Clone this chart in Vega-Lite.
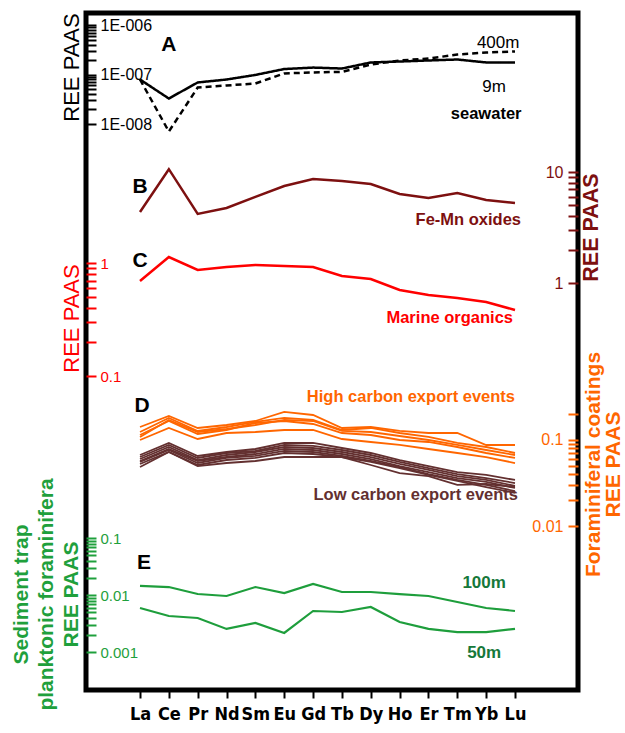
{
  "$schema": "https://vega.github.io/schema/vega-lite/v6.json",
  "width": 492,
  "height": 677,
  "autosize": {"type": "none"},
  "padding": {"left": 86, "top": 13, "right": 47, "bottom": 43},
  "background": "white",
  "config": {
    "view": {"stroke": "black", "strokeWidth": 5},
    "axis": {"grid": false, "domain": false, "labelFont": "Liberation Sans", "titleFont": "Liberation Sans", "labelFlush": false, "labelOverlap": false, "labelBound": false},
    "text": {"font": "Liberation Sans"}
  },
  "datasets": {
    "seawater": [
      {"depth": "9m", "el": "La", "v": 7.92e-8}, {"depth": "9m", "el": "Ce", "v": 3.27e-8}, {"depth": "9m", "el": "Pr", "v": 6.9e-8}, {"depth": "9m", "el": "Nd", "v": 7.92e-8}, {"depth": "9m", "el": "Sm", "v": 9.8e-8}, {"depth": "9m", "el": "Eu", "v": 1.29e-7}, {"depth": "9m", "el": "Gd", "v": 1.38e-7}, {"depth": "9m", "el": "Tb", "v": 1.32e-7}, {"depth": "9m", "el": "Dy", "v": 1.75e-7}, {"depth": "9m", "el": "Ho", "v": 1.83e-7}, {"depth": "9m", "el": "Er", "v": 1.92e-7}, {"depth": "9m", "el": "Tm", "v": 2.01e-7}, {"depth": "9m", "el": "Yb", "v": 1.75e-7}, {"depth": "9m", "el": "Lu", "v": 1.75e-7},
      {"depth": "400m", "el": "La", "v": 7.92e-8}, {"depth": "400m", "el": "Ce", "v": 7.05e-9}, {"depth": "400m", "el": "Pr", "v": 5.46e-8}, {"depth": "400m", "el": "Nd", "v": 6.0e-8}, {"depth": "400m", "el": "Sm", "v": 6.58e-8}, {"depth": "400m", "el": "Eu", "v": 1.05e-7}, {"depth": "400m", "el": "Gd", "v": 1.10e-7}, {"depth": "400m", "el": "Tb", "v": 1.13e-7}, {"depth": "400m", "el": "Dy", "v": 1.59e-7}, {"depth": "400m", "el": "Ho", "v": 1.92e-7}, {"depth": "400m", "el": "Er", "v": 2.1e-7}, {"depth": "400m", "el": "Tm", "v": 2.53e-7}, {"depth": "400m", "el": "Yb", "v": 2.78e-7}, {"depth": "400m", "el": "Lu", "v": 2.92e-7}
    ],
    "femn": [
      {"el": "La", "v": 4.36}, {"el": "Ce", "v": 10.6}, {"el": "Pr", "v": 4.19}, {"el": "Nd", "v": 4.74}, {"el": "Sm", "v": 5.96}, {"el": "Eu", "v": 7.48}, {"el": "Gd", "v": 8.65}, {"el": "Tb", "v": 8.30}, {"el": "Dy", "v": 7.80}, {"el": "Ho", "v": 6.34}, {"el": "Er", "v": 5.84}, {"el": "Tm", "v": 6.47}, {"el": "Yb", "v": 5.60}, {"el": "Lu", "v": 5.26}
    ],
    "organics": [
      {"el": "La", "v": 0.693}, {"el": "Ce", "v": 1.13}, {"el": "Pr", "v": 0.867}, {"el": "Nd", "v": 0.922}, {"el": "Sm", "v": 0.960}, {"el": "Eu", "v": 0.941}, {"el": "Gd", "v": 0.922}, {"el": "Tb", "v": 0.767}, {"el": "Dy", "v": 0.722}, {"el": "Ho", "v": 0.577}, {"el": "Er", "v": 0.521}, {"el": "Tm", "v": 0.490}, {"el": "Yb", "v": 0.451}, {"el": "Lu", "v": 0.384}
    ],
    "forams": [
      {"grp": "high", "s": "H1", "el": "La", "v": 0.1416}, {"grp": "high", "s": "H1", "el": "Ce", "v": 0.1902}, {"grp": "high", "s": "H1", "el": "Pr", "v": 0.1379}, {"grp": "high", "s": "H1", "el": "Nd", "v": 0.1494}, {"grp": "high", "s": "H1", "el": "Sm", "v": 0.1663}, {"grp": "high", "s": "H1", "el": "Eu", "v": 0.2117}, {"grp": "high", "s": "H1", "el": "Gd", "v": 0.1953}, {"grp": "high", "s": "H1", "el": "Tb", "v": 0.1379}, {"grp": "high", "s": "H1", "el": "Dy", "v": 0.1416}, {"grp": "high", "s": "H1", "el": "Ho", "v": 0.1273}, {"grp": "high", "s": "H1", "el": "Er", "v": 0.1206}, {"grp": "high", "s": "H1", "el": "Tm", "v": 0.1206}, {"grp": "high", "s": "H1", "el": "Yb", "v": 0.0875}, {"grp": "high", "s": "H1", "el": "Lu", "v": 0.0875},
      {"grp": "high", "s": "H2", "el": "La", "v": 0.1239}, {"grp": "high", "s": "H2", "el": "Ce", "v": 0.1803}, {"grp": "high", "s": "H2", "el": "Pr", "v": 0.1273}, {"grp": "high", "s": "H2", "el": "Nd", "v": 0.1416}, {"grp": "high", "s": "H2", "el": "Sm", "v": 0.1620}, {"grp": "high", "s": "H2", "el": "Eu", "v": 0.1803}, {"grp": "high", "s": "H2", "el": "Gd", "v": 0.1709}, {"grp": "high", "s": "H2", "el": "Tb", "v": 0.1307}, {"grp": "high", "s": "H2", "el": "Dy", "v": 0.1379}, {"grp": "high", "s": "H2", "el": "Ho", "v": 0.1206}, {"grp": "high", "s": "H2", "el": "Er", "v": 0.1084}, {"grp": "high", "s": "H2", "el": "Tm", "v": 0.0923}, {"grp": "high", "s": "H2", "el": "Yb", "v": 0.0829}, {"grp": "high", "s": "H2", "el": "Lu", "v": 0.0706},
      {"grp": "high", "s": "H3", "el": "La", "v": 0.1143}, {"grp": "high", "s": "H3", "el": "Ce", "v": 0.1663}, {"grp": "high", "s": "H3", "el": "Pr", "v": 0.1174}, {"grp": "high", "s": "H3", "el": "Nd", "v": 0.1307}, {"grp": "high", "s": "H3", "el": "Sm", "v": 0.1576}, {"grp": "high", "s": "H3", "el": "Eu", "v": 0.1663}, {"grp": "high", "s": "H3", "el": "Gd", "v": 0.1535}, {"grp": "high", "s": "H3", "el": "Tb", "v": 0.1206}, {"grp": "high", "s": "H3", "el": "Dy", "v": 0.1143}, {"grp": "high", "s": "H3", "el": "Ho", "v": 0.1}, {"grp": "high", "s": "H3", "el": "Er", "v": 0.0948}, {"grp": "high", "s": "H3", "el": "Tm", "v": 0.0829}, {"grp": "high", "s": "H3", "el": "Yb", "v": 0.0706}, {"grp": "high", "s": "H3", "el": "Lu", "v": 0.0618},
      {"grp": "high", "s": "H4", "el": "La", "v": 0.1}, {"grp": "high", "s": "H4", "el": "Ce", "v": 0.1379}, {"grp": "high", "s": "H4", "el": "Pr", "v": 0.1027}, {"grp": "high", "s": "H4", "el": "Nd", "v": 0.1206}, {"grp": "high", "s": "H4", "el": "Sm", "v": 0.1239}, {"grp": "high", "s": "H4", "el": "Eu", "v": 0.1307}, {"grp": "high", "s": "H4", "el": "Gd", "v": 0.1307}, {"grp": "high", "s": "H4", "el": "Tb", "v": 0.1027}, {"grp": "high", "s": "H4", "el": "Dy", "v": 0.0948}, {"grp": "high", "s": "H4", "el": "Ho", "v": 0.0875}, {"grp": "high", "s": "H4", "el": "Er", "v": 0.0786}, {"grp": "high", "s": "H4", "el": "Tm", "v": 0.0706}, {"grp": "high", "s": "H4", "el": "Yb", "v": 0.0634}, {"grp": "high", "s": "H4", "el": "Lu", "v": 0.0540},
      {"grp": "high", "s": "H5", "el": "La", "v": 0.1084}, {"grp": "high", "s": "H5", "el": "Ce", "v": 0.1709}, {"grp": "high", "s": "H5", "el": "Pr", "v": 0.1239}, {"grp": "high", "s": "H5", "el": "Nd", "v": 0.1342}, {"grp": "high", "s": "H5", "el": "Sm", "v": 0.1494}, {"grp": "high", "s": "H5", "el": "Eu", "v": 0.1709}, {"grp": "high", "s": "H5", "el": "Gd", "v": 0.1663}, {"grp": "high", "s": "H5", "el": "Tb", "v": 0.1273}, {"grp": "high", "s": "H5", "el": "Dy", "v": 0.1239}, {"grp": "high", "s": "H5", "el": "Ho", "v": 0.1113}, {"grp": "high", "s": "H5", "el": "Er", "v": 0.1}, {"grp": "high", "s": "H5", "el": "Tm", "v": 0.0875}, {"grp": "high", "s": "H5", "el": "Yb", "v": 0.0765}, {"grp": "high", "s": "H5", "el": "Lu", "v": 0.0669},
      {"grp": "low", "s": "L1", "el": "La", "v": 0.0669}, {"grp": "low", "s": "L1", "el": "Ce", "v": 0.0923}, {"grp": "low", "s": "L1", "el": "Pr", "v": 0.0652}, {"grp": "low", "s": "L1", "el": "Nd", "v": 0.0725}, {"grp": "low", "s": "L1", "el": "Sm", "v": 0.0786}, {"grp": "low", "s": "L1", "el": "Eu", "v": 0.0923}, {"grp": "low", "s": "L1", "el": "Gd", "v": 0.0923}, {"grp": "low", "s": "L1", "el": "Tb", "v": 0.0807}, {"grp": "low", "s": "L1", "el": "Dy", "v": 0.0706}, {"grp": "low", "s": "L1", "el": "Ho", "v": 0.0585}, {"grp": "low", "s": "L1", "el": "Er", "v": 0.0498}, {"grp": "low", "s": "L1", "el": "Tm", "v": 0.0424}, {"grp": "low", "s": "L1", "el": "Yb", "v": 0.0392}, {"grp": "low", "s": "L1", "el": "Lu", "v": 0.0343},
      {"grp": "low", "s": "L2", "el": "La", "v": 0.0634}, {"grp": "low", "s": "L2", "el": "Ce", "v": 0.0875}, {"grp": "low", "s": "L2", "el": "Pr", "v": 0.0618}, {"grp": "low", "s": "L2", "el": "Nd", "v": 0.0706}, {"grp": "low", "s": "L2", "el": "Sm", "v": 0.0745}, {"grp": "low", "s": "L2", "el": "Eu", "v": 0.0875}, {"grp": "low", "s": "L2", "el": "Gd", "v": 0.0852}, {"grp": "low", "s": "L2", "el": "Tb", "v": 0.0765}, {"grp": "low", "s": "L2", "el": "Dy", "v": 0.0669}, {"grp": "low", "s": "L2", "el": "Ho", "v": 0.0555}, {"grp": "low", "s": "L2", "el": "Er", "v": 0.0472}, {"grp": "low", "s": "L2", "el": "Tm", "v": 0.0402}, {"grp": "low", "s": "L2", "el": "Yb", "v": 0.0361}, {"grp": "low", "s": "L2", "el": "Lu", "v": 0.0316},
      {"grp": "low", "s": "L3", "el": "La", "v": 0.0601}, {"grp": "low", "s": "L3", "el": "Ce", "v": 0.0829}, {"grp": "low", "s": "L3", "el": "Pr", "v": 0.0585}, {"grp": "low", "s": "L3", "el": "Nd", "v": 0.0669}, {"grp": "low", "s": "L3", "el": "Sm", "v": 0.0725}, {"grp": "low", "s": "L3", "el": "Eu", "v": 0.0829}, {"grp": "low", "s": "L3", "el": "Gd", "v": 0.0807}, {"grp": "low", "s": "L3", "el": "Tb", "v": 0.0725}, {"grp": "low", "s": "L3", "el": "Dy", "v": 0.0634}, {"grp": "low", "s": "L3", "el": "Ho", "v": 0.0526}, {"grp": "low", "s": "L3", "el": "Er", "v": 0.0448}, {"grp": "low", "s": "L3", "el": "Tm", "v": 0.0381}, {"grp": "low", "s": "L3", "el": "Yb", "v": 0.0343}, {"grp": "low", "s": "L3", "el": "Lu", "v": 0.0292},
      {"grp": "low", "s": "L4", "el": "La", "v": 0.0570}, {"grp": "low", "s": "L4", "el": "Ce", "v": 0.0786}, {"grp": "low", "s": "L4", "el": "Pr", "v": 0.0570}, {"grp": "low", "s": "L4", "el": "Nd", "v": 0.0634}, {"grp": "low", "s": "L4", "el": "Sm", "v": 0.0687}, {"grp": "low", "s": "L4", "el": "Eu", "v": 0.0786}, {"grp": "low", "s": "L4", "el": "Gd", "v": 0.0765}, {"grp": "low", "s": "L4", "el": "Tb", "v": 0.0687}, {"grp": "low", "s": "L4", "el": "Dy", "v": 0.0601}, {"grp": "low", "s": "L4", "el": "Ho", "v": 0.0498}, {"grp": "low", "s": "L4", "el": "Er", "v": 0.0424}, {"grp": "low", "s": "L4", "el": "Tm", "v": 0.0361}, {"grp": "low", "s": "L4", "el": "Yb", "v": 0.0325}, {"grp": "low", "s": "L4", "el": "Lu", "v": 0.0277},
      {"grp": "low", "s": "L5", "el": "La", "v": 0.0555}, {"grp": "low", "s": "L5", "el": "Ce", "v": 0.0765}, {"grp": "low", "s": "L5", "el": "Pr", "v": 0.0540}, {"grp": "low", "s": "L5", "el": "Nd", "v": 0.0618}, {"grp": "low", "s": "L5", "el": "Sm", "v": 0.0652}, {"grp": "low", "s": "L5", "el": "Eu", "v": 0.0745}, {"grp": "low", "s": "L5", "el": "Gd", "v": 0.0725}, {"grp": "low", "s": "L5", "el": "Tb", "v": 0.0652}, {"grp": "low", "s": "L5", "el": "Dy", "v": 0.0570}, {"grp": "low", "s": "L5", "el": "Ho", "v": 0.0485}, {"grp": "low", "s": "L5", "el": "Er", "v": 0.0402}, {"grp": "low", "s": "L5", "el": "Tm", "v": 0.0343}, {"grp": "low", "s": "L5", "el": "Yb", "v": 0.0300}, {"grp": "low", "s": "L5", "el": "Lu", "v": 0.0255},
      {"grp": "low", "s": "L6", "el": "La", "v": 0.0526}, {"grp": "low", "s": "L6", "el": "Ce", "v": 0.0725}, {"grp": "low", "s": "L6", "el": "Pr", "v": 0.0512}, {"grp": "low", "s": "L6", "el": "Nd", "v": 0.0585}, {"grp": "low", "s": "L6", "el": "Sm", "v": 0.0618}, {"grp": "low", "s": "L6", "el": "Eu", "v": 0.0706}, {"grp": "low", "s": "L6", "el": "Gd", "v": 0.0687}, {"grp": "low", "s": "L6", "el": "Tb", "v": 0.0634}, {"grp": "low", "s": "L6", "el": "Dy", "v": 0.0555}, {"grp": "low", "s": "L6", "el": "Ho", "v": 0.0472}, {"grp": "low", "s": "L6", "el": "Er", "v": 0.0392}, {"grp": "low", "s": "L6", "el": "Tm", "v": 0.0334}, {"grp": "low", "s": "L6", "el": "Yb", "v": 0.0284}, {"grp": "low", "s": "L6", "el": "Lu", "v": 0.0242},
      {"grp": "low", "s": "L7", "el": "La", "v": 0.0485}, {"grp": "low", "s": "L7", "el": "Ce", "v": 0.0725}, {"grp": "low", "s": "L7", "el": "Pr", "v": 0.0498}, {"grp": "low", "s": "L7", "el": "Nd", "v": 0.0540}, {"grp": "low", "s": "L7", "el": "Sm", "v": 0.0570}, {"grp": "low", "s": "L7", "el": "Eu", "v": 0.0634}, {"grp": "low", "s": "L7", "el": "Gd", "v": 0.0634}, {"grp": "low", "s": "L7", "el": "Tb", "v": 0.0634}, {"grp": "low", "s": "L7", "el": "Dy", "v": 0.0512}, {"grp": "low", "s": "L7", "el": "Ho", "v": 0.0413}, {"grp": "low", "s": "L7", "el": "Er", "v": 0.0381}, {"grp": "low", "s": "L7", "el": "Tm", "v": 0.0300}, {"grp": "low", "s": "L7", "el": "Yb", "v": 0.0308}, {"grp": "low", "s": "L7", "el": "Lu", "v": 0.0284}
    ],
    "trap": [
      {"depth": "100m", "el": "La", "v": 0.0144}, {"depth": "100m", "el": "Ce", "v": 0.0138}, {"depth": "100m", "el": "Pr", "v": 0.0104}, {"depth": "100m", "el": "Nd", "v": 0.0096}, {"depth": "100m", "el": "Sm", "v": 0.0138}, {"depth": "100m", "el": "Eu", "v": 0.0108}, {"depth": "100m", "el": "Gd", "v": 0.0156}, {"depth": "100m", "el": "Tb", "v": 0.0113}, {"depth": "100m", "el": "Dy", "v": 0.0113}, {"depth": "100m", "el": "Ho", "v": 0.0104}, {"depth": "100m", "el": "Er", "v": 0.0096}, {"depth": "100m", "el": "Tm", "v": 0.00754}, {"depth": "100m", "el": "Yb", "v": 0.00592}, {"depth": "100m", "el": "Lu", "v": 0.00524},
      {"depth": "50m", "el": "La", "v": 0.00592}, {"depth": "50m", "el": "Ce", "v": 0.00428}, {"depth": "50m", "el": "Pr", "v": 0.00395}, {"depth": "50m", "el": "Nd", "v": 0.00254}, {"depth": "50m", "el": "Sm", "v": 0.00323}, {"depth": "50m", "el": "Eu", "v": 0.00216}, {"depth": "50m", "el": "Gd", "v": 0.00524}, {"depth": "50m", "el": "Tb", "v": 0.00503}, {"depth": "50m", "el": "Dy", "v": 0.00616}, {"depth": "50m", "el": "Ho", "v": 0.00336}, {"depth": "50m", "el": "Er", "v": 0.00254}, {"depth": "50m", "el": "Tm", "v": 0.00224}, {"depth": "50m", "el": "Yb", "v": 0.00224}, {"depth": "50m", "el": "Lu", "v": 0.00254}
    ],
    "ann": [
      {"label": "A", "el": "Ce", "v": 3.86e-7},
      {"label": "400m", "el": "Yb", "v": 4.23e-7},
      {"label": "9m", "el": "Yb", "v": 5.72e-8},
      {"label": "seawater", "el": "Yb", "v": 1.56e-8},
      {"label": "B", "el": "La", "v": 7.33},
      {"label": "Fe-Mn oxides", "el": "Lu", "v": 3.70},
      {"label": "C", "el": "La", "v": 1.04},
      {"label": "Marine organics", "el": "Lu", "v": 0.326},
      {"label": "D", "el": "La", "v": 0.248},
      {"label": "High carbon export events", "el": "Lu", "v": 0.316},
      {"label": "Low carbon export events", "el": "Lu", "v": 0.0229},
      {"label": "E", "el": "La", "v": 0.0364},
      {"label": "100m", "el": "Yb", "v": 0.01625},
      {"label": "50m", "el": "Yb", "v": 0.00096}
    ]
  },
  "encoding": {
    "x": {
      "field": "el", "type": "ordinal",
      "scale": {"type": "point", "domain": ["La", "Ce", "Pr", "Nd", "Sm", "Eu", "Gd", "Tb", "Dy", "Ho", "Er", "Tm", "Yb", "Lu"], "range": [54, 429], "padding": 0},
      "axis": {"orient": "bottom", "title": null, "labelFont": "DejaVu Sans Condensed, Liberation Sans Narrow, Liberation Sans", "labelFontWeight": "bold", "labelFontSize": 18, "labelColor": "black", "labelAngle": 0, "tickSize": 8, "tickWidth": 2, "tickColor": "black", "labelPadding": 7, "domain": false, "grid": false}
    }
  },
  "layer": [
    {
      "layer": [
        {
          "data": {"name": "seawater"},
          "mark": {"type": "line", "color": "black", "strokeWidth": 2.5},
          "encoding": {
            "y": {"field": "v", "type": "quantitative",
              "scale": {"type": "log", "domain": [1e-8, 1e-6], "range": [111, 12], "nice": false},
              "axis": {"orient": "left", "values": [1e-8, 2e-8, 3e-8, 4e-8, 5e-8, 6e-8, 7e-8, 8e-8, 9e-8, 1e-7, 2e-7, 3e-7, 4e-7, 5e-7, 6e-7, 7e-7, 8e-7, 9e-7, 1e-6],
                "labelExpr": "datum.value == 0.000001 ? '1E-006' : datum.value == 0.0000001 ? '1E-007' : datum.value == 0.00000001 ? '1E-008' : ''",
                "tickSize": -10, "tickWidth": 2, "tickColor": "black", "labelColor": "black", "labelFontSize": 16, "labelAlign": "left", "labelBaseline": "middle", "labelPadding": -4,
                "title": "REE PAAS", "titleColor": "black", "titleFontSize": 22, "titleFontWeight": "normal", "titleAngle": -90, "titleAlign": "center", "titleBaseline": "middle", "titleX": -14.5, "titleY": 54}},
            "strokeDash": {"field": "depth", "type": "nominal", "scale": {"domain": ["9m", "400m"], "range": [[1, 0], [6, 4]]}, "legend": null}
          }
        },
        {
          "data": {"name": "ann"},
          "transform": [{"filter": {"field": "label", "oneOf": ["A"]}}],
          "mark": {"type": "text", "fontWeight": "bold", "fontSize": 21, "color": "black", "align": "center", "baseline": "middle"},
          "encoding": {"y": {"field": "v", "type": "quantitative"}, "text": {"field": "label"}}
        },
        {
          "data": {"name": "ann"},
          "transform": [{"filter": {"field": "label", "oneOf": ["400m"]}}],
          "mark": {"type": "text", "fontSize": 17, "color": "black", "align": "center", "baseline": "middle", "dx": 12},
          "encoding": {"y": {"field": "v", "type": "quantitative"}, "text": {"field": "label"}}
        },
        {
          "data": {"name": "ann"},
          "transform": [{"filter": {"field": "label", "oneOf": ["9m"]}}],
          "mark": {"type": "text", "fontSize": 17, "color": "black", "align": "center", "baseline": "middle", "dx": 8},
          "encoding": {"y": {"field": "v", "type": "quantitative"}, "text": {"field": "label"}}
        },
        {
          "data": {"name": "ann"},
          "transform": [{"filter": {"field": "label", "oneOf": ["seawater"]}}],
          "mark": {"type": "text", "fontSize": 16.5, "fontWeight": "bold", "color": "black", "align": "center", "baseline": "middle"},
          "encoding": {"y": {"field": "v", "type": "quantitative"}, "text": {"field": "label"}}
        }
      ]
    },
    {
      "layer": [
        {
          "data": {"name": "femn"},
          "mark": {"type": "line", "color": "#7d1010", "strokeWidth": 2.5},
          "encoding": {
            "y": {"field": "v", "type": "quantitative",
              "scale": {"type": "log", "domain": [1, 10], "range": [270, 159], "nice": false},
              "axis": {"orient": "right", "values": [1, 2, 3, 4, 5, 6, 7, 8, 9, 10],
                "labelExpr": "datum.value == 10 ? '10' : datum.value == 1 ? '1' : ''",
                "tickSize": -10, "tickWidth": 2, "tickColor": "#7d1010", "labelColor": "#7d1010", "labelFontSize": 16, "labelAlign": "right", "labelBaseline": "middle", "labelPadding": -5,
                "title": "REE PAAS", "titleColor": "#7d1010", "titleFontSize": 21.5, "titleFontWeight": "bold", "titleAngle": -90, "titleAlign": "center", "titleBaseline": "middle", "titleX": 13.5, "titleY": 214}}
          }
        },
        {
          "data": {"name": "ann"},
          "transform": [{"filter": {"field": "label", "oneOf": ["B"]}}],
          "mark": {"type": "text", "fontWeight": "bold", "fontSize": 21, "color": "black", "align": "center", "baseline": "middle"},
          "encoding": {"y": {"field": "v", "type": "quantitative"}, "text": {"field": "label"}}
        },
        {
          "data": {"name": "ann"},
          "transform": [{"filter": {"field": "label", "oneOf": ["Fe-Mn oxides"]}}],
          "mark": {"type": "text", "fontWeight": "bold", "fontSize": 16.5, "color": "#7d1010", "align": "right", "baseline": "middle", "dx": 6},
          "encoding": {"y": {"field": "v", "type": "quantitative"}, "text": {"field": "label"}}
        }
      ]
    },
    {
      "layer": [
        {
          "data": {"name": "organics"},
          "mark": {"type": "line", "color": "#ff0000", "strokeWidth": 2.5},
          "encoding": {
            "y": {"field": "v", "type": "quantitative",
              "scale": {"type": "log", "domain": [0.1, 1], "range": [363, 250], "nice": false},
              "axis": {"orient": "left", "values": [0.1, 0.2, 0.3, 0.4, 0.5, 0.6, 0.7, 0.8, 0.9, 1],
                "labelExpr": "datum.value == 1 ? '1' : datum.value == 0.1 ? '0.1' : ''",
                "tickSize": -10, "tickWidth": 2, "tickColor": "#ff0000", "labelColor": "#ff0000", "labelFontSize": 15, "labelAlign": "left", "labelBaseline": "middle", "labelPadding": -4,
                "title": "REE PAAS", "titleColor": "#ff0000", "titleFontSize": 22, "titleFontWeight": "normal", "titleAngle": -90, "titleAlign": "center", "titleBaseline": "middle", "titleX": -15, "titleY": 305}}
          }
        },
        {
          "data": {"name": "ann"},
          "transform": [{"filter": {"field": "label", "oneOf": ["C"]}}],
          "mark": {"type": "text", "fontWeight": "bold", "fontSize": 21, "color": "black", "align": "center", "baseline": "middle"},
          "encoding": {"y": {"field": "v", "type": "quantitative"}, "text": {"field": "label"}}
        },
        {
          "data": {"name": "ann"},
          "transform": [{"filter": {"field": "label", "oneOf": ["Marine organics"]}}],
          "mark": {"type": "text", "fontWeight": "bold", "fontSize": 16.5, "color": "#ff0000", "align": "right", "baseline": "middle", "dx": -2},
          "encoding": {"y": {"field": "v", "type": "quantitative"}, "text": {"field": "label"}}
        }
      ]
    },
    {
      "layer": [
        {
          "data": {"name": "forams"},
          "mark": {"type": "line", "strokeWidth": 1.8},
          "encoding": {
            "y": {"field": "v", "type": "quantitative",
              "scale": {"type": "log", "domain": [0.01, 0.2], "range": [513, 401.1], "nice": false},
              "axis": {"orient": "right", "values": [0.01, 0.02, 0.03, 0.04, 0.05, 0.06, 0.07, 0.08, 0.09, 0.1, 0.2],
                "labelExpr": "datum.value == 0.1 ? '0.1' : datum.value == 0.01 ? '0.01' : ''",
                "tickSize": -10, "tickWidth": 2, "tickColor": "#ff6600", "labelColor": "#ff6600", "labelFontSize": 16, "labelAlign": "right", "labelBaseline": "middle", "labelPadding": -5,
                "title": ["Foraminiferal coatings", "REE PAAS"], "titleColor": "#ff6600", "titleFontSize": 21, "titleFontWeight": "bold", "titleLineHeight": 20, "titleAngle": -90, "titleAlign": "center", "titleBaseline": "middle", "titleX": 15.5, "titleY": 451}},
            "color": {"field": "grp", "type": "nominal", "scale": {"domain": ["high", "low"], "range": ["#ff6600", "#633030"]}, "legend": null},
            "detail": {"field": "s", "type": "nominal"}
          }
        },
        {
          "data": {"name": "ann"},
          "transform": [{"filter": {"field": "label", "oneOf": ["D"]}}],
          "mark": {"type": "text", "fontWeight": "bold", "fontSize": 21, "color": "black", "align": "center", "baseline": "middle", "dx": 2},
          "encoding": {"y": {"field": "v", "type": "quantitative"}, "text": {"field": "label"}}
        },
        {
          "data": {"name": "ann"},
          "transform": [{"filter": {"field": "label", "oneOf": ["High carbon export events"]}}],
          "mark": {"type": "text", "fontWeight": "bold", "fontSize": 16.5, "color": "#ff6600", "align": "right", "baseline": "middle"},
          "encoding": {"y": {"field": "v", "type": "quantitative"}, "text": {"field": "label"}}
        },
        {
          "data": {"name": "ann"},
          "transform": [{"filter": {"field": "label", "oneOf": ["Low carbon export events"]}}],
          "mark": {"type": "text", "fontWeight": "bold", "fontSize": 16.5, "color": "#633030", "align": "right", "baseline": "middle", "dx": 3},
          "encoding": {"y": {"field": "v", "type": "quantitative"}, "text": {"field": "label"}}
        }
      ]
    },
    {
      "layer": [
        {
          "data": {"name": "trap"},
          "mark": {"type": "line", "color": "#1e9e3c", "strokeWidth": 2.2},
          "encoding": {
            "y": {"field": "v", "type": "quantitative",
              "scale": {"type": "log", "domain": [0.001, 0.1], "range": [639, 525], "nice": false},
              "axis": {"orient": "left", "values": [0.001, 0.002, 0.003, 0.004, 0.005, 0.006, 0.007, 0.008, 0.009, 0.01, 0.02, 0.03, 0.04, 0.05, 0.06, 0.07, 0.08, 0.09, 0.1],
                "labelExpr": "datum.value == 0.1 ? '0.1' : datum.value == 0.01 ? '0.01' : datum.value == 0.001 ? '0.001' : ''",
                "tickSize": -10, "tickWidth": 2, "tickColor": "#1fa03c", "labelColor": "#1fa03c", "labelFontSize": 15, "labelAlign": "left", "labelBaseline": "middle", "labelPadding": -4,
                "title": ["Sediment trap", "planktonic foraminifera", "REE PAAS"], "titleColor": "#1fa03c", "titleFontSize": 21, "titleFontWeight": "bold", "titleLineHeight": 25, "titleAngle": -90, "titleAlign": "center", "titleBaseline": "middle", "titleX": -65, "titleY": 581}},
            "detail": {"field": "depth", "type": "nominal"}
          }
        },
        {
          "data": {"name": "ann"},
          "transform": [{"filter": {"field": "label", "oneOf": ["E"]}}],
          "mark": {"type": "text", "fontWeight": "bold", "fontSize": 21, "color": "black", "align": "center", "baseline": "middle", "dx": 4},
          "encoding": {"y": {"field": "v", "type": "quantitative"}, "text": {"field": "label"}}
        },
        {
          "data": {"name": "ann"},
          "transform": [{"filter": {"field": "label", "oneOf": ["100m", "50m"]}}],
          "mark": {"type": "text", "fontWeight": "bold", "fontSize": 17, "color": "#16783a", "align": "center", "baseline": "middle", "dx": -2},
          "encoding": {"y": {"field": "v", "type": "quantitative"}, "text": {"field": "label"}}
        }
      ]
    }
  ],
  "resolve": {"scale": {"y": "independent"}}
}
